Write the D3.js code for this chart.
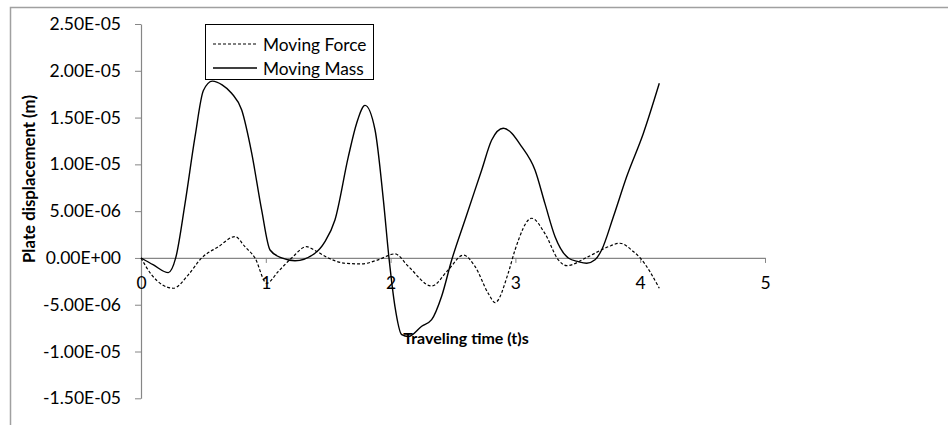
<!DOCTYPE html>
<html>
<head>
<meta charset="utf-8">
<script src="https://cdn.jsdelivr.net/npm/d3@7"></script>
<style>
  html, body { margin: 0; padding: 0; background: #fff; }
  svg { display: block; }
  text { font-family: Lato, "Open Sans", sans-serif; fill: #000; }
</style>
</head>
<body>
<svg id="chart" width="948" height="425"></svg>
<script>
// Plate displacement (m) against traveling time (s)
const timeMass = [0, 0.1, 0.219, 0.278, 0.353, 0.433, 0.5, 0.572, 0.65, 0.726, 0.807, 0.887, 0.967, 1.034, 1.127,
  1.234, 1.394, 1.474, 1.554, 1.661, 1.728, 1.795, 1.875, 1.942, 1.987, 2.035, 2.089, 2.142, 2.249, 2.329,
  2.409, 2.49, 2.596, 2.73, 2.81, 2.903, 3.05, 3.157, 3.237, 3.317, 3.424, 3.504, 3.571, 3.638, 3.691,
  3.785, 3.892, 4.025, 4.153];
const displacementMass = [0, -0.75e-6, -1.57e-6, 0, 5.84e-6, 12.96e-6, 17.9e-6, 18.9e-6, 18.5e-6, 17.6e-6, 15.8e-6,
  11.2e-6, 5.1e-6, 0.85e-6, 0, -0.3e-6, 0.5e-6, 1.74e-6, 4.06e-6, 10.8e-6, 14.4e-6, 16.3e-6, 13.7e-6, 6.2e-6,
  0, -5.2e-6, -8.2e-6, -8.4e-6, -7.3e-6, -6.6e-6, -4.1e-6, -0.2e-6, 4.06e-6, 9.4e-6, 12.6e-6, 13.86e-6,
  11.9e-6, 9.4e-6, 5.8e-6, 2.3e-6, 0, -0.4e-6, -0.57e-6, -0.2e-6, 0.85e-6, 4.4e-6, 8.7e-6, 13.3e-6, 18.66e-6];

const timeForce = [0, 0.085, 0.259, 0.379, 0.486, 0.62, 0.753, 0.833, 0.913, 1.007, 1.1, 1.207, 1.327, 1.394,
  1.5, 1.635, 1.768, 1.9, 2.035, 2.142, 2.329, 2.462, 2.583, 2.676, 2.783, 2.837, 2.943, 2.997, 3.13,
  3.237, 3.344, 3.41, 3.584, 3.744, 3.838, 3.945, 4.0, 4.153];
const displacementForce = [0, -1.8e-6, -3.24e-6, -1.8e-6, 0, 1.2e-6, 2.28e-6, 1.2e-6, 0, -2.7e-6, -1.45e-6, 0,
  1.2e-6, 0.8e-6, 0, -0.57e-6, -0.64e-6, -0.2e-6, 0.43e-6, -0.9e-6, -3.0e-6, -1.28e-6, 0.3e-6, -0.9e-6,
  -3.8e-6, -4.77e-6, -1.6e-6, 0.85e-6, 4.24e-6, 2.6e-6, -0.2e-6, -0.82e-6, 0.14e-6, 1.2e-6, 1.57e-6,
  0.68e-6, 0, -3.24e-6];

const xTicks = [0, 1, 2, 3, 4, 5];
const yTicks = [-1.5e-5, -1e-5, -5e-6, 0, 5e-6, 1e-5, 1.5e-5, 2e-5, 2.5e-5];
const seriesNames = ["Moving Force", "Moving Mass"];
const xTitle = "Traveling time (t)s";
const yTitle = "Plate displacement (m)";

const svg = d3.select("#chart");

// outer chart frame
svg.append("path")
  .attr("d", "M10.5,425 L10.5,7.5 L948,7.5")
  .attr("fill", "none")
  .attr("stroke", "#a0a0a0")
  .attr("stroke-width", 1.5);

const x = d3.scaleLinear().domain([0, 5]).range([141, 765]);
const y = d3.scaleLinear().domain([-1.5e-5, 2.5e-5]).range([398.3, 24]);

// Excel-style scientific format: 2.50E-05, 0.00E+00
function sci(v) {
  if (v === 0) return "0.00E+00";
  const parts = v.toExponential(2).split("e");
  const n = +parts[1];
  return parts[0] + "E" + (n < 0 ? "-" : "+") + String(Math.abs(n)).padStart(2, "0");
}

const axisColor = "#868686";

// y axis
const gy = svg.append("g")
  .attr("transform", "translate(141,0)")
  .call(d3.axisLeft(y).tickValues(yTicks).tickFormat(sci).tickSize(6).tickSizeOuter(0).tickPadding(14));
gy.select(".domain").attr("stroke", axisColor).attr("stroke-width", 1.2);
gy.selectAll(".tick line").attr("stroke", axisColor);
gy.selectAll(".tick text").attr("font-size", 17.5).attr("font-family", "Lato, sans-serif").attr("fill", "#000");

// x axis through zero
const gx = svg.append("g")
  .attr("transform", `translate(0,${y(0)})`)
  .call(d3.axisBottom(x).tickValues(xTicks).tickFormat(d3.format("d")).tickSize(5).tickSizeOuter(0));
gx.select(".domain").attr("stroke", axisColor).attr("stroke-width", 1.2);
gx.selectAll(".tick line").attr("stroke", axisColor);
gx.selectAll(".tick text")
  .attr("font-size", 17.5).attr("font-family", "Lato, sans-serif").attr("fill", "#000")
  .attr("y", 25).attr("dy", "0.35em");

// series lines
const line = d3.line()
  .x(d => x(d[0]))
  .y(d => y(d[1]))
  .curve(d3.curveMonotoneX);

svg.append("path")
  .datum(d3.zip(timeForce, displacementForce))
  .attr("d", line)
  .attr("fill", "none")
  .attr("stroke", "#000")
  .attr("stroke-width", 1.2)
  .attr("stroke-dasharray", "3,2");

svg.append("path")
  .datum(d3.zip(timeMass, displacementMass))
  .attr("d", line)
  .attr("fill", "none")
  .attr("stroke", "#000")
  .attr("stroke-width", 1.4);

// axis titles
svg.append("text")
  .attr("transform", "translate(28,179) rotate(-90)")
  .attr("text-anchor", "middle")
  .attr("dominant-baseline", "central")
  .attr("font-size", 17)
  .attr("font-weight", "bold")
  .attr("textLength", 168)
  .attr("lengthAdjust", "spacingAndGlyphs")
  .text(yTitle);

svg.append("text")
  .attr("x", 466)
  .attr("y", 337)
  .attr("text-anchor", "middle")
  .attr("dominant-baseline", "central")
  .attr("font-size", 16)
  .attr("font-weight", "bold")
  .text(xTitle);

// legend
const legend = svg.append("g");
legend.append("rect")
  .attr("x", 205.5).attr("y", 24.5)
  .attr("width", 168).attr("height", 55)
  .attr("fill", "#fff")
  .attr("stroke", "#000")
  .attr("stroke-width", 1);

const legendRows = [
  { name: seriesNames[0], dash: "3,2", width: 1.2, cy: 44 },
  { name: seriesNames[1], dash: null, width: 1.4, cy: 68 }
];
legendRows.forEach(r => {
  legend.append("line")
    .attr("x1", 213).attr("x2", 257)
    .attr("y1", r.cy).attr("y2", r.cy)
    .attr("stroke", "#000")
    .attr("stroke-width", r.width)
    .attr("stroke-dasharray", r.dash);
  legend.append("text")
    .attr("x", 263).attr("y", r.cy)
    .attr("dominant-baseline", "central")
    .attr("font-size", 17.3)
    .text(r.name);
});
</script>
</body>
</html>
